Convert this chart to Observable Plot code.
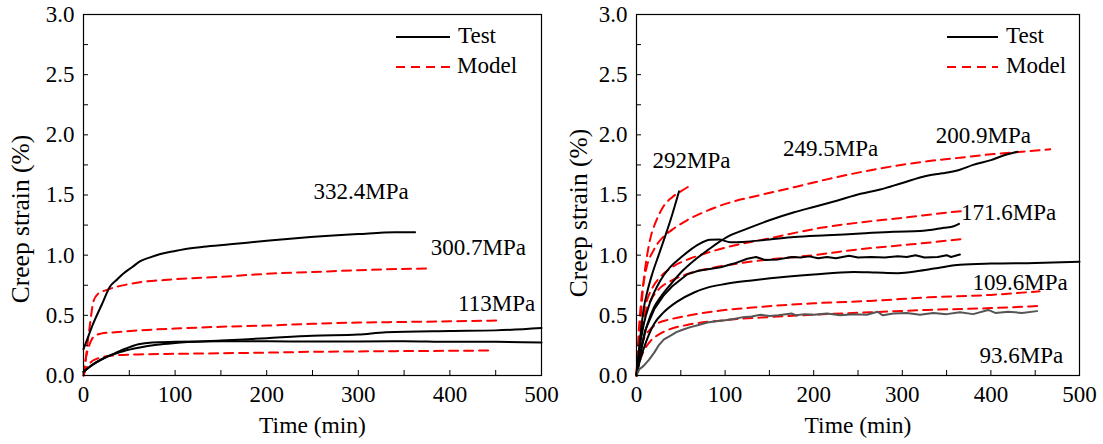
<!DOCTYPE html>
<html>
<head>
<meta charset="utf-8">
<script src="https://cdn.jsdelivr.net/npm/d3@7"></script>
<script src="https://cdn.jsdelivr.net/npm/@observablehq/plot@0.6"></script>
<style>
  body { margin: 0; background: #fff; }
  #wrap { position: relative; width: 1103px; height: 444px; overflow: hidden; font-family: "Liberation Serif", "Times New Roman", serif; }
  .panel { position: absolute; top: 0; }
  .panel svg { overflow: visible; }
  #legend { position: absolute; left: 0; top: 0; pointer-events: none; }
</style>
</head>
<body>
<div id="wrap">
  <div class="panel" id="left" style="left:0px"></div>
  <div class="panel" id="right" style="left:550px"></div>
  <svg id="legend" width="1103" height="444" font-family="Liberation Serif, Times New Roman, serif" font-size="23">
    <line x1="396" x2="450" y1="37" y2="37" stroke="#000" stroke-width="2"/>
    <text x="458" y="38" dominant-baseline="middle">Test</text>
    <line x1="396" x2="450" y1="67" y2="67" stroke="#ff0000" stroke-width="2" stroke-dasharray="9,6"/>
    <text x="457" y="68" dominant-baseline="middle">Model</text>
    <line x1="947" x2="998" y1="37" y2="37" stroke="#000" stroke-width="2"/>
    <text x="1006" y="38" dominant-baseline="middle">Test</text>
    <line x1="947" x2="998" y1="67" y2="67" stroke="#ff0000" stroke-width="2" stroke-dasharray="9,6"/>
    <text x="1006" y="68" dominant-baseline="middle">Model</text>
  </svg>
</div>
<script>
// ---------- axis ticks ----------
const xTicks = [0, 100, 200, 300, 400, 500];
const xMinor = [0, 50, 100, 150, 200, 250, 300, 350, 400, 450, 500];
const yTicks = [0, 0.5, 1.0, 1.5, 2.0, 2.5, 3.0];
const yMinor = [0, 0.25, 0.5, 0.75, 1.0, 1.25, 1.5, 1.75, 2.0, 2.25, 2.5, 2.75, 3.0];

// ---------- left panel: [time (min), creep strain (%)] ----------
const leftTest332 = [[0,0.22],[5,0.32],[10,0.42],[20,0.59],[29,0.74],[37,0.80],[44,0.85],[53,0.90],[62,0.95],[72,0.98],[84,1.01],[97,1.03],[110,1.05],[131,1.07],[160,1.09],[200,1.12],[248,1.15],[300,1.175],[340,1.19],[362,1.19]];
const leftTestA = [[0,0.03],[10,0.09],[20,0.135],[30,0.17],[45,0.22],[60,0.26],[75,0.275],[100,0.28],[150,0.285],[200,0.285],[250,0.282],[300,0.283],[350,0.285],[400,0.28],[450,0.28],[500,0.275]];
const leftTestB = [[0,0.03],[10,0.09],[20,0.135],[30,0.17],[45,0.205],[60,0.23],[80,0.255],[100,0.27],[150,0.29],[200,0.31],[250,0.33],[300,0.34],[330,0.36],[400,0.37],[450,0.375],[500,0.395]];
const leftModelTop = [[0,0],[2,0.1],[4,0.24],[7,0.42],[11,0.62],[16,0.68],[25,0.71],[50,0.76],[100,0.80],[150,0.82],[200,0.845],[250,0.86],[300,0.875],[375,0.89]];
const leftModelMid = [[0,0],[2,0.12],[5,0.22],[9,0.3],[14,0.335],[20,0.35],[30,0.357],[60,0.375],[100,0.39],[150,0.405],[200,0.415],[250,0.43],[300,0.44],[350,0.445],[400,0.45],[453,0.457]];
const leftModelLow = [[0,0],[3,0.06],[8,0.11],[15,0.14],[25,0.16],[30,0.165],[60,0.175],[100,0.18],[150,0.185],[200,0.19],[250,0.197],[300,0.2],[350,0.203],[400,0.205],[447,0.208]];

const leftLabels = ["332.4MPa", "300.7MPa", "113MPa"];
const leftLabelT = [303, 431, 451];
const leftLabelS = [1.53, 1.064, 0.598];

// ---------- right panel ----------
const rightTest292 = [[0,0],[4,0.3],[8,0.55],[13,0.72],[18,0.85],[25,1.0],[32,1.15],[40,1.33],[48,1.53]];
const rightTest249 = [[0,0],[3,0.2],[8,0.42],[15,0.6],[27,0.79],[38,0.9],[50,0.98],[60,1.04],[70,1.09],[83,1.128],[93,1.13],[106,1.108],[120,1.11],[150,1.13],[178,1.15],[215,1.165],[253,1.18],[290,1.195],[320,1.2],[347,1.227],[358,1.24],[364,1.26]];
const rightTest200 = [[0,0],[3,0.12],[7,0.28],[12,0.42],[20,0.57],[27,0.65],[40,0.77],[52,0.87],[65,0.956],[80,1.04],[102,1.15],[125,1.22],[150,1.29],[178,1.357],[200,1.4],[225,1.45],[253,1.51],[275,1.545],[300,1.6],[328,1.66],[345,1.68],[365,1.71],[380,1.75],[400,1.79],[415,1.83],[430,1.86]];
const rightTest171 = [[0,0],[5,0.2],[10,0.38],[20,0.55],[30,0.66],[40,0.74],[57,0.84],[70,0.87],[95,0.9],[110,0.93],[125,0.97],[135,0.985],[145,0.96],[160,0.965],[175,0.985],[185,0.98],[195,0.99],[205,0.975],[215,0.985],[225,0.975],[240,0.995],[250,0.98],[265,0.985],[280,0.98],[295,0.99],[305,0.985],[315,1.0],[325,0.98],[340,0.985],[350,1.0],[355,0.985],[365,1.005]];
const rightTest109 = [[0,0],[3,0.1],[8,0.22],[14,0.34],[20,0.43],[30,0.52],[45,0.61],[65,0.69],[80,0.73],[100,0.76],[130,0.79],[160,0.815],[200,0.84],[245,0.86],[270,0.855],[295,0.85],[320,0.87],[345,0.9],[365,0.92],[400,0.93],[450,0.935],[500,0.945]];
const rightTest93 = [[0,0],[3,0.05],[8,0.08],[14,0.13],[20,0.19],[25,0.25],[31,0.3],[38,0.33],[45,0.36],[52,0.38],[60,0.4],[70,0.42],[80,0.44],[90,0.45],[100,0.46],[110,0.47],[120,0.485],[130,0.49],[140,0.505],[150,0.495],[160,0.5],[175,0.515],[180,0.5],[190,0.51],[200,0.505],[215,0.515],[230,0.5],[245,0.51],[260,0.505],[272,0.53],[278,0.5],[290,0.515],[305,0.52],[320,0.505],[335,0.52],[350,0.51],[365,0.525],[380,0.51],[397,0.545],[405,0.52],[420,0.53],[435,0.52],[452,0.535]];

const rightModel292 = [[0,0],[2,0.2],[4.5,0.46],[8,0.78],[12,1.0],[16,1.15],[22,1.28],[30,1.40],[40,1.48],[50,1.53],[61,1.58]];
const rightModel200 = [[0,0],[2,0.3],[5,0.6],[10,0.85],[20,1.05],[30,1.15],[40,1.21],[57,1.29],[80,1.37],[102,1.43],[140,1.5],[178,1.565],[215,1.63],[253,1.69],[290,1.74],[328,1.78],[365,1.81],[403,1.84],[435,1.86],[467,1.88]];
const rightModel171 = [[0,0],[2,0.2],[5,0.4],[10,0.58],[18,0.73],[27,0.82],[40,0.9],[60,0.97],[80,1.02],[102,1.066],[150,1.14],[208,1.227],[250,1.27],[300,1.31],[354,1.357],[372,1.37]];
const rightModelMid = [[0,0],[2,0.15],[5,0.35],[10,0.52],[18,0.65],[27,0.73],[40,0.79],[60,0.85],[83,0.89],[140,0.956],[200,1.0],[253,1.05],[310,1.09],[371,1.136]];
const rightModel109 = [[0,0],[3,0.15],[8,0.3],[15,0.38],[23,0.43],[40,0.47],[60,0.5],[95,0.54],[140,0.57],[200,0.6],[264,0.62],[330,0.65],[400,0.67],[455,0.70]];
const rightModel93 = [[0,0],[3,0.1],[8,0.2],[15,0.28],[25,0.34],[36,0.38],[57,0.42],[100,0.46],[160,0.49],[200,0.505],[264,0.526],[330,0.545],[400,0.56],[455,0.578]];

const rightLabels = ["292MPa", "249.5MPa", "200.9MPa", "171.6MPa", "109.6MPa", "93.6MPa"];
const rightLabelT = [62, 219, 391.6, 420, 433, 434.5];
const rightLabelS = [1.787, 1.886, 1.995, 1.355, 0.773, 0.166];

// ---------- build ----------
const FONT = '"Liberation Serif", "Times New Roman", serif';
function rows(series) {
  const out = [];
  for (const [name, pts] of series) for (const [t, s] of pts) out.push({name, t, s});
  return out;
}

function panel({width, ml, mr, ydx, ydy, tests, wavy, gray, models, labels, labelT, labelS}) {
  const mt = 14, mb = 69, height = 444;
  const iw = width - ml - mr, ih = height - mt - mb;
  const labelData = labels.map((l, i) => ({l, t: labelT[i], s: labelS[i]}));
  return Plot.plot({
    width, height,
    marginLeft: ml, marginRight: mr, marginTop: mt, marginBottom: mb,
    style: {fontFamily: FONT, fontSize: "23px", color: "#000", background: "transparent", overflow: "visible"},
    x: {domain: [0, 500]},
    y: {domain: [0, 3]},
    marks: [
      Plot.line(rows(models), {x: "t", y: "s", z: "name", stroke: "#ff0000", strokeWidth: 2, strokeDasharray: "9,6", curve: "monotone-x"}),
      Plot.line(rows(tests), {x: "t", y: "s", z: "name", stroke: "#000", strokeWidth: 2, curve: "monotone-x"}),
      Plot.line(rows(wavy), {x: "t", y: "s", z: "name", stroke: "#000", strokeWidth: 2, curve: "linear"}),
      Plot.line(rows(gray), {x: "t", y: "s", z: "name", stroke: "#555", strokeWidth: 2, curve: "linear"}),
      Plot.text(labelData, {x: "t", y: "s", text: "l", fontSize: 23, fontFamily: FONT, fill: "#000"}),
      Plot.tickX(xMinor, {x: d => d, insetTop: ih - 5, stroke: "#000", strokeWidth: 1}),
      Plot.tickY(yMinor, {y: d => d, insetRight: iw - 5, stroke: "#000", strokeWidth: 1}),
      Plot.axisX({ticks: xTicks, tickSize: 0, tickPadding: 10, tickFormat: d => String(d), label: null, fontSize: 23}),
      Plot.axisY({ticks: yTicks, tickSize: 0, tickPadding: 9, tickFormat: d3.format(".1f"), label: null, fontSize: 23}),
      Plot.text(["Time (min)"], {frameAnchor: "bottom", lineAnchor: "middle", textAnchor: "middle", dy: 50, text: d => d, fontSize: 23.5, fontFamily: FONT}),
      Plot.text(["Creep strain (%)"], {frameAnchor: "left", textAnchor: "middle", lineAnchor: "middle", dx: ydx, dy: ydy, rotate: -90, text: d => d, fontSize: 25.5, fontFamily: FONT}),
      Plot.frame({stroke: "#000", strokeWidth: 1.2})
    ]
  });
}

document.getElementById("left").appendChild(panel({
  width: 550, ml: 83, mr: 9, ydx: -63, ydy: 24,
  tests: [["332", leftTest332], ["A", leftTestA], ["B", leftTestB]],
  wavy: [], gray: [],
  models: [["top", leftModelTop], ["mid", leftModelMid], ["low", leftModelLow]],
  labels: leftLabels, labelT: leftLabelT, labelS: leftLabelS
}));

document.getElementById("right").appendChild(panel({
  width: 553, ml: 86, mr: 24, ydx: -58, ydy: 18,
  tests: [["292", rightTest292], ["249", rightTest249], ["200", rightTest200], ["109", rightTest109]],
  wavy: [["171", rightTest171]], gray: [["93", rightTest93]],
  models: [["292", rightModel292], ["200", rightModel200], ["171", rightModel171], ["mid", rightModelMid], ["109", rightModel109], ["93", rightModel93]],
  labels: rightLabels, labelT: rightLabelT, labelS: rightLabelS
}));
</script>
</body>
</html>
